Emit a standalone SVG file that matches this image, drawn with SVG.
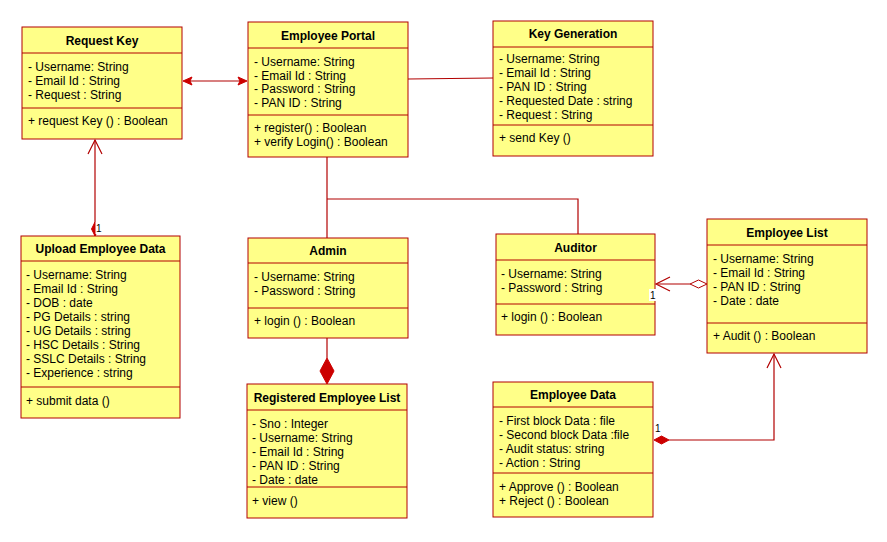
<svg xmlns="http://www.w3.org/2000/svg" width="887" height="542" viewBox="0 0 887 542">
<style>
.box{fill:#ffff88;stroke:#b20000;stroke-width:1}
.ln{stroke:#b20000;stroke-width:1;fill:none}
text{font-family:"Liberation Sans",Arial,sans-serif;font-size:12px;fill:#000}
.h{font-weight:bold;text-anchor:middle}
.e{stroke:#b20000;stroke-width:1.2;fill:none}
.f{fill:#cc0000;stroke:#cc0000;stroke-width:1}
.o{fill:#fff;stroke:#b20000;stroke-width:1}
.lab{font-size:10px;fill:#000}
</style>
<rect width="887" height="542" fill="#fff"/>
<g id="request-key">
<rect class="box" x="22" y="27" width="160" height="112"/>
<line class="ln" x1="22" y1="53" x2="182" y2="53"/>
<line class="ln" x1="22" y1="108" x2="182" y2="108"/>
<text class="h" x="102" y="45">Request Key</text>
<text x="28" y="71">- Username: String</text>
<text x="28" y="85">- Email Id : String</text>
<text x="28" y="99">- Request : String</text>
<text x="28" y="125">+ request Key () : Boolean</text>
</g>
<g id="employee-portal">
<rect class="box" x="248" y="22" width="160" height="135"/>
<line class="ln" x1="248" y1="48" x2="408" y2="48"/>
<line class="ln" x1="248" y1="115" x2="408" y2="115"/>
<text class="h" x="328" y="40">Employee Portal</text>
<text x="254" y="66">- Username: String</text>
<text x="254" y="80">- Email Id : String</text>
<text x="254" y="93">- Password : String</text>
<text x="254" y="107">- PAN ID : String</text>
<text x="254" y="132">+ register() : Boolean</text>
<text x="254" y="146">+ verify Login() : Boolean</text>
</g>
<g id="key-generation">
<rect class="box" x="493" y="21" width="160" height="135"/>
<line class="ln" x1="493" y1="47" x2="653" y2="47"/>
<line class="ln" x1="493" y1="125" x2="653" y2="125"/>
<text class="h" x="573" y="38">Key Generation</text>
<text x="499" y="63">- Username: String</text>
<text x="499" y="77">- Email Id : String</text>
<text x="499" y="91">- PAN ID : String</text>
<text x="499" y="105">- Requested Date : string</text>
<text x="499" y="119">- Request : String</text>
<text x="499" y="142">+ send Key ()</text>
</g>
<g id="upload-employee-data">
<rect class="box" x="21" y="236" width="159" height="182"/>
<line class="ln" x1="21" y1="261" x2="180" y2="261"/>
<line class="ln" x1="21" y1="387" x2="180" y2="387"/>
<text class="h" x="100.5" y="253">Upload Employee Data</text>
<text x="26" y="279">- Username: String</text>
<text x="26" y="293">- Email Id : String</text>
<text x="26" y="307">- DOB : date</text>
<text x="26" y="321">- PG Details : string</text>
<text x="26" y="335">- UG Details : string</text>
<text x="26" y="349">- HSC Details : String</text>
<text x="26" y="363">- SSLC Details : String</text>
<text x="26" y="377">- Experience : string</text>
<text x="26" y="405">+ submit data ()</text>
</g>
<g id="admin">
<rect class="box" x="248" y="238" width="160" height="100"/>
<line class="ln" x1="248" y1="263" x2="408" y2="263"/>
<line class="ln" x1="248" y1="308" x2="408" y2="308"/>
<text class="h" x="328" y="255">Admin</text>
<text x="254" y="281">- Username: String</text>
<text x="254" y="295">- Password : String</text>
<text x="254" y="325">+ login () : Boolean</text>
</g>
<g id="auditor">
<rect class="box" x="496" y="234" width="159" height="101"/>
<line class="ln" x1="496" y1="260" x2="655" y2="260"/>
<line class="ln" x1="496" y1="304" x2="655" y2="304"/>
<text class="h" x="575.5" y="252">Auditor</text>
<text x="501" y="278">- Username: String</text>
<text x="501" y="292">- Password : String</text>
<text x="501" y="321">+ login () : Boolean</text>
</g>
<g id="employee-list">
<rect class="box" x="707" y="219" width="160" height="134"/>
<line class="ln" x1="707" y1="245" x2="867" y2="245"/>
<line class="ln" x1="707" y1="323" x2="867" y2="323"/>
<text class="h" x="787" y="237">Employee List</text>
<text x="713" y="263">- Username: String</text>
<text x="713" y="277">- Email Id : String</text>
<text x="713" y="291">- PAN ID : String</text>
<text x="713" y="305">- Date : date</text>
<text x="713" y="340">+ Audit () : Boolean</text>
</g>
<g id="registered-employee-list">
<rect class="box" x="247" y="384" width="160" height="134"/>
<line class="ln" x1="247" y1="410" x2="407" y2="410"/>
<line class="ln" x1="247" y1="487" x2="407" y2="487"/>
<text class="h" x="327" y="402">Registered Employee List</text>
<text x="252" y="428">- Sno : Integer</text>
<text x="252" y="442">- Username: String</text>
<text x="252" y="456">- Email Id : String</text>
<text x="252" y="470">- PAN ID : String</text>
<text x="252" y="484">- Date : date</text>
<text x="252" y="505">+ view ()</text>
</g>
<g id="employee-data">
<rect class="box" x="493" y="382" width="160" height="135"/>
<line class="ln" x1="493" y1="407" x2="653" y2="407"/>
<line class="ln" x1="493" y1="473" x2="653" y2="473"/>
<text class="h" x="573" y="399">Employee Data</text>
<text x="499" y="425">- First block Data : file</text>
<text x="499" y="439">- Second block Data :file</text>
<text x="499" y="453">- Audit status: string</text>
<text x="499" y="467">- Action : String</text>
<text x="499" y="491">+ Approve () : Boolean</text>
<text x="499" y="505">+ Reject () : Boolean</text>
</g>
<g id="connectors">
<line class="e" x1="186" y1="81" x2="244" y2="81"/>
<path class="f" d="M183,81 L192,77 L190,81 L192,85 Z"/>
<path class="f" d="M247,81 L238,77 L240,81 L238,85 Z"/>
<line class="e" x1="408" y1="79" x2="493" y2="78"/>
<line class="e" x1="95" y1="236" x2="95" y2="140"/>
<path class="e" d="M88,154 L95,140 L102,154"/>
<path class="f" d="M95,236 L91.5,229 L95,222 L98.5,229 Z"/>
<rect x="95.5" y="222" width="6" height="12" fill="#fff"/>
<text class="lab" x="96" y="232">1</text>
<path class="e" d="M327,157 L327,238"/>
<path class="e" d="M327,199 L578,199 L578,234"/>
<line class="e" x1="327" y1="338" x2="327" y2="358"/>
<path class="f" d="M327,358 L334,371 L327,384 L320,371 Z"/>
<line class="e" x1="657" y1="284" x2="690" y2="284"/>
<path class="e" d="M670,277 L656,284 L670,291"/>
<path class="o" d="M707,284 L698.5,280 L690,284 L698.5,288 Z"/>
<rect x="649" y="289" width="8" height="12" fill="#fff"/>
<text class="lab" x="650" y="299">1</text>
<path class="e" d="M669,440 L774,440 L774,354"/>
<path class="e" d="M767,368 L774,354 L781,368"/>
<path class="f" d="M654,440 L661.5,436 L669,440 L661.5,444 Z"/>
<text class="lab" x="655" y="432">1</text>
</g>
</svg>
